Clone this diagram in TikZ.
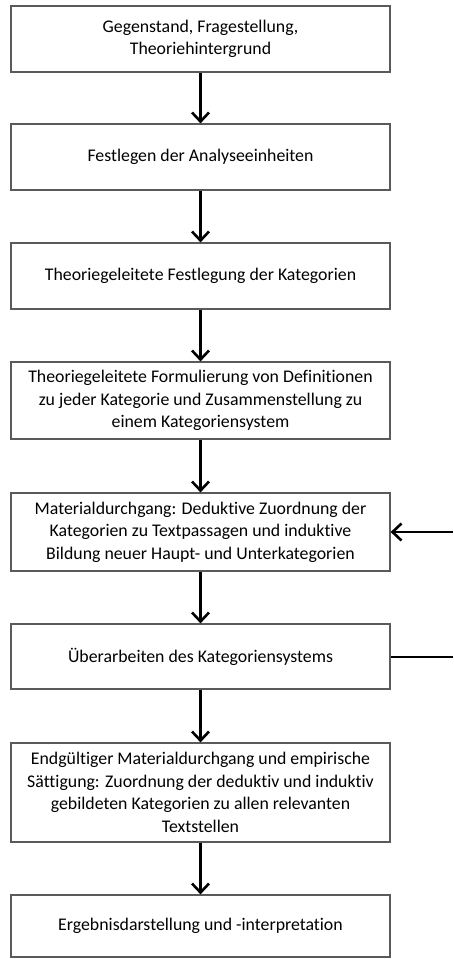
\documentclass[tikz,border=0pt]{standalone}
\usepackage{fontspec}
\setmainfont{Carlito}[Ligatures=NoCommon]
\definecolor{boxgray}{RGB}{90,90,90}
\usetikzlibrary{calc, positioning, arrows.meta}

\begin{document}
\begin{tikzpicture}[x=1pt, y=-1pt,
    stepbox/.style={draw=boxgray, line width=1.2pt, minimum width=379pt,
      align=center, inner sep=4pt, font=\fontsize{17.8}{22.5}\selectfont},
    flow/.style={-{Straight Barb[length=9pt, width=17pt, line width=2.6pt]},
      line width=2.6pt}]
  \useasboundingbox (0,0) rectangle (453,959);
  \node[stepbox, minimum height=66pt] (gegenstand) at (200.5,39)
    {Gegenstand, Fragestellung,\\Theoriehintergrund};
  \node[stepbox, minimum height=66pt] (einheiten) at (200.5,157)
    {Festlegen der Analyseeinheiten};
  \node[stepbox, minimum height=66pt] (kategorien) at (200.5,276)
    {Theoriegeleitete Festlegung der Kategorien};
  \node[stepbox, minimum height=77pt] (definitionen) at (200.5,400.5)
    {Theoriegeleitete Formulierung von Definitionen\\zu jeder Kategorie und Zusammenstellung zu\\einem Kategoriensystem};
  \node[stepbox, minimum height=78pt] (durchgang) at (200.5,532)
    {Materialdurchgang: Deduktive Zuordnung der\\Kategorien zu Textpassagen und induktive\\Bildung neuer Haupt- und Unterkategorien};
  \node[stepbox, minimum height=65pt] (ueberarbeiten) at (200.5,656.5)
    {Überarbeiten des Kategoriensystems};
  \node[stepbox, minimum height=99pt] (endgueltig) at (200.5,792.5)
    {Endgültiger Materialdurchgang und empirische\\Sättigung: Zuordnung der deduktiv und induktiv\\gebildeten Kategorien zu allen relevanten\\Textstellen};
  \node[stepbox, minimum height=62pt] (ergebnis) at (200.5,926)
    {Ergebnisdarstellung und -interpretation};
  % Rueckkopplung am rechten Rand
  \coordinate (rueckaus) at (453,657);
  \coordinate (rueckein) at (453,532);
  \draw[flow] (gegenstand) -- (einheiten);
  \draw[flow] (einheiten) -- (kategorien);
  \draw[flow] (kategorien) -- (definitionen);
  \draw[flow] (definitionen) -- (durchgang);
  \draw[flow] (durchgang) -- (ueberarbeiten);
  \draw[flow] (ueberarbeiten) -- (endgueltig);
  \draw[flow] (endgueltig) -- (ergebnis);
  \draw[line width=2.6pt] (ueberarbeiten.east |- rueckaus) -- (rueckaus);
  \draw[flow] (rueckein) -- (durchgang.east |- rueckein);
\end{tikzpicture}
\end{document}
